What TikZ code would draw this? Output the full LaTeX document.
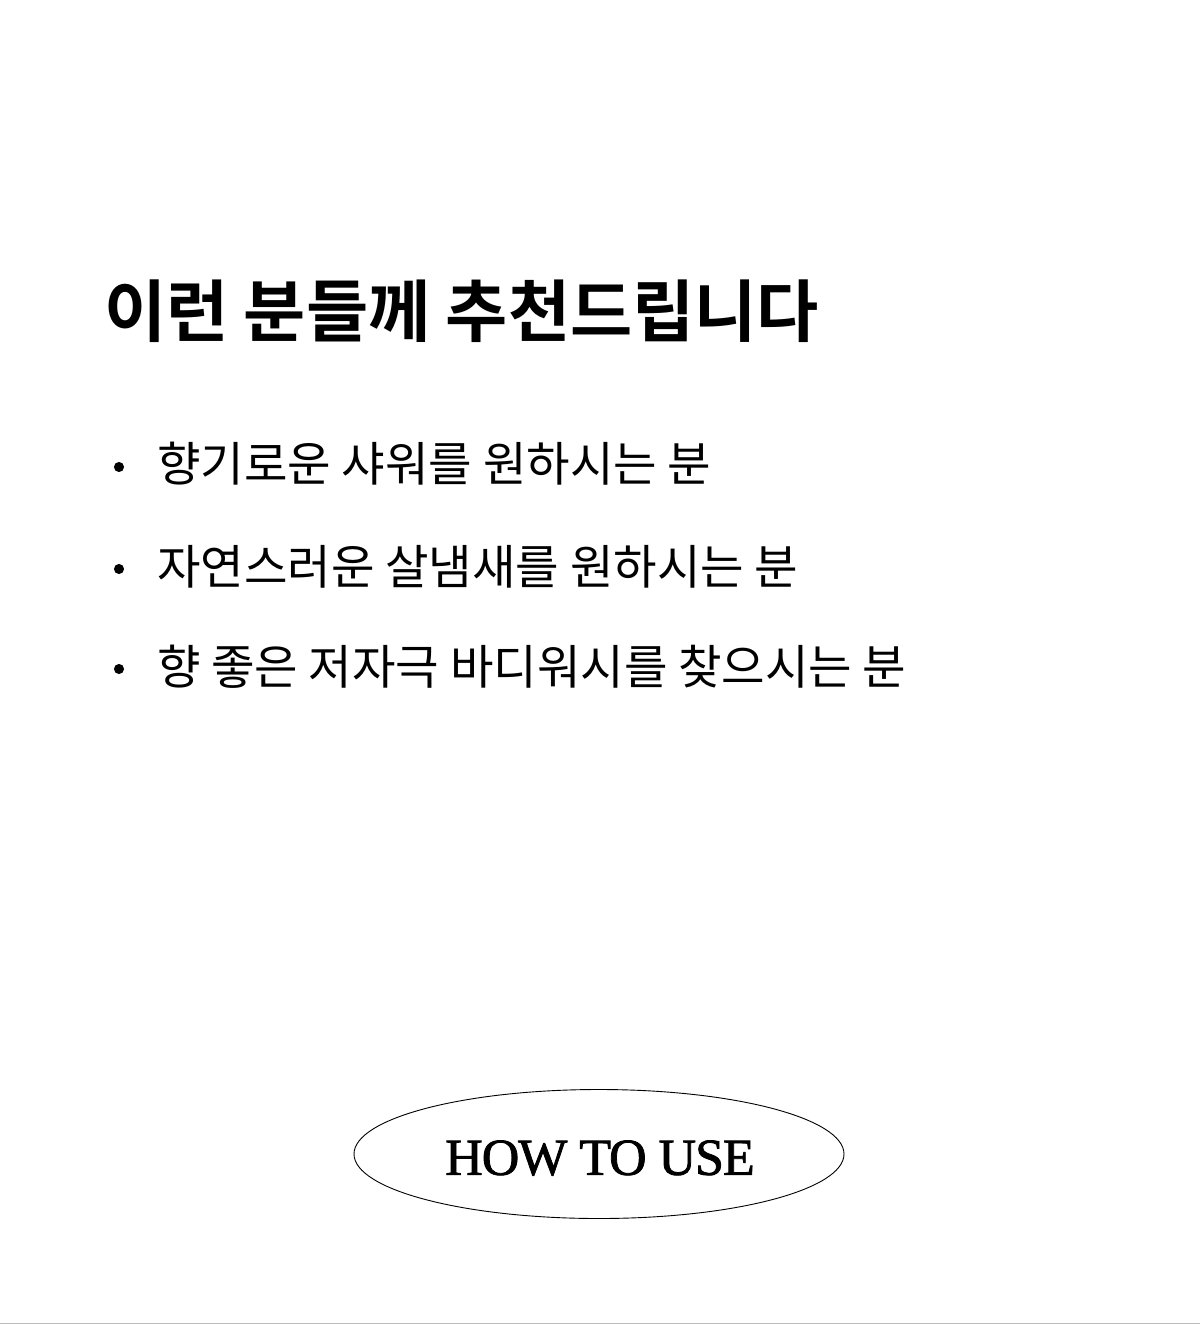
\documentclass[tikz,border=0pt]{standalone}
\usepackage{fontspec}
\usetikzlibrary{shapes.geometric}
\newfontfamily\krfont{Noto Sans CJK KR}
\newfontfamily\krbold{Noto Sans CJK KR Bold}
\newfontfamily\serifhead[FakeBold=1.5,LetterSpace=-2]{Liberation Serif}
\definecolor{rulegray}{HTML}{BBBBBB}
\begin{document}
\begin{tikzpicture}[x=1pt,y=-1pt,
  title/.style={anchor=west,inner sep=0pt,font=\krbold\fontsize{67.6}{74}\selectfont},
  item/.style={anchor=west,inner sep=0pt,font=\krfont\fontsize{47.3}{54}\selectfont},
  bulletdot/.style={circle,fill=black,draw=black,line width=1pt,inner sep=0pt,minimum size=9pt},
  pill/.style={ellipse,draw=black,line width=0.9pt,minimum width=490pt,minimum height=129pt,inner sep=0pt},
  pilltext/.style={inner sep=0pt,font=\serifhead\fontsize{52}{58}\selectfont}]
\useasboundingbox (0,0) rectangle (1200,1324);
\fill[white] (0,0) rectangle (1200,1324);
\node[title] (t) at (104,311) {이런 분들께 추천드립니다};
\node[bulletdot] (b1) at (119,467) {};
\node[item] (l1) at (157,464) {향기로운 샤워를 원하시는 분};
\node[bulletdot] (b2) at (119,569) {};
\node[item] (l2) at (157,567) {자연스러운 살냄새를 원하시는 분};
\node[bulletdot] (b3) at (119,669) {};
\node[item] (l3) at (157,667) {향 좋은 저자극 바디워시를 찾으시는 분};
\node[pill] (e) at (599,1154) {};
\node[pilltext] (h) at (600,1158) {HOW TO USE};
\draw[rulegray,line width=1.5pt] (0,1323.25) -- (1200,1323.25);
\end{tikzpicture}
\end{document}
